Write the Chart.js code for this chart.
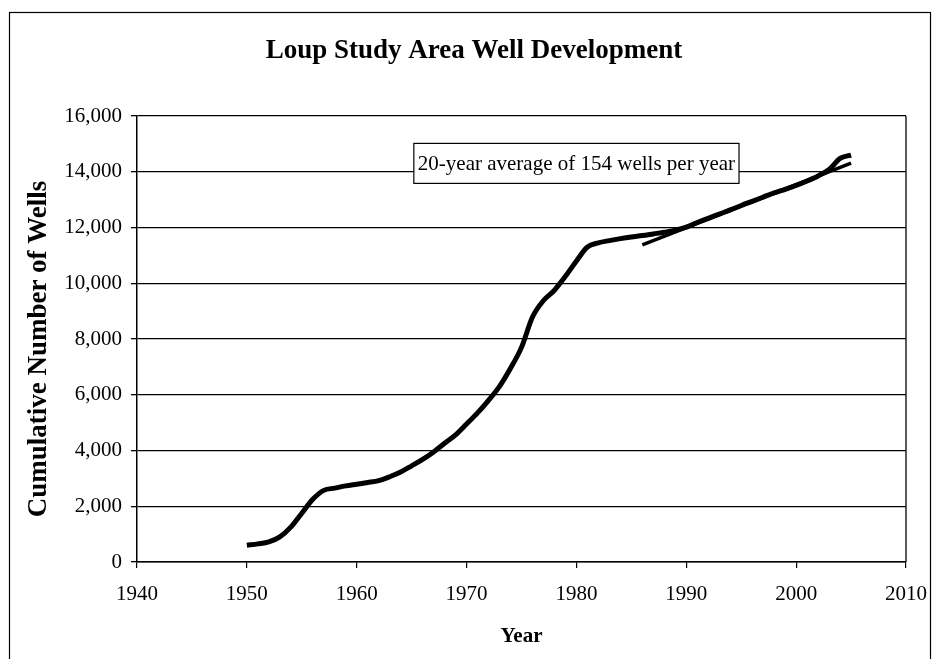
<!DOCTYPE html>
<html>
<head>
<meta charset="utf-8">
<script src="https://cdn.jsdelivr.net/npm/chart.js@4.4.1/dist/chart.umd.min.js"></script>
<style>
    html, body { margin: 0; padding: 0; background: #fff; }
    #wrap { width: 932px; height: 659px; position: relative; }
</style>
</head>
<body>
<div id="wrap"><canvas id="my-wells"></canvas></div>
<script>
/*
    Loup Study Area Well Development
*/

// cumulative well count
const years = [1950, 1951, 1952, 1953, 1954, 1955, 1956, 1957, 1958, 1959,
               1960, 1961, 1962, 1963, 1964, 1965, 1966, 1967, 1968, 1969,
               1970, 1971, 1972, 1973, 1974, 1975, 1976, 1977, 1978, 1979,
               1980, 1981, 1982, 1983, 1984, 1985, 1986, 1987, 1988, 1989,
               1990, 1991, 1992, 1993, 1994, 1995, 1996, 1997, 1998, 1999,
               2000, 2001, 2002, 2003, 2004, 2005];
const wells = [600, 650, 720, 900, 1250, 1750, 2250, 2570, 2650, 2730,
               2790, 2850, 2920, 3060, 3230, 3450, 3680, 3950, 4260, 4560,
               4950, 5350, 5800, 6300, 6950, 7700, 8790, 9380, 9750, 10250,
               10800, 11300, 11450, 11530, 11600, 11660, 11710, 11770, 11830, 11900,
               12010, 12180, 12330, 12480, 12630, 12790, 12940, 13090, 13240, 13370,
               13510, 13670, 13850, 14080, 14480, 14600];

// straight trend line, 1986 - 2005
const trend_years = [1986, 2005];
const trend_wells = [11380, 14310];

const note_text = '20-year average of 154 wells per year';
const note_year = 1980;   // box centre
const note_wells = 14300;

const y_title = 'Cumulative Number of Wells';
const serif = "'Liberation Serif', 'Times New Roman', serif";

Chart.defaults.font.family = serif;
Chart.defaults.color = '#000';

const framePlugin = {
    id: 'frame',
    beforeDraw(chart) {
        const c = chart.ctx;
        c.save();
        c.fillStyle = '#fff';
        c.fillRect(0, 0, chart.width, chart.height);
        c.strokeStyle = '#000';
        c.lineWidth = 1.2;
        c.strokeRect(9.5, 12.5, 921, 700);
        c.restore();
    },
    beforeDatasetsDraw(chart) {
        // plot area border on the right
        const a = chart.chartArea;
        const c = chart.ctx;
        c.save();
        c.strokeStyle = '#000';
        c.lineWidth = 1.3;
        c.beginPath();
        c.moveTo(a.right, a.top);
        c.lineTo(a.right, a.bottom);
        c.stroke();
        c.restore();
    },
    afterDraw(chart) {
        // y axis title, centred on the plot height
        const a = chart.chartArea;
        const c = chart.ctx;
        c.save();
        c.translate(39, (a.top + a.bottom) / 2 + 10);
        c.rotate(-Math.PI / 2);
        c.font = 'bold 27px ' + serif;
        c.fillStyle = '#000';
        c.textAlign = 'center';
        c.textBaseline = 'middle';
        c.fillText(y_title, 0, 0);
        c.restore();
    }
};

const notePlugin = {
    id: 'note',
    afterDatasetsDraw(chart) {
        const c = chart.ctx;
        const cx = chart.scales.x.getPixelForValue(note_year);
        const cy = chart.scales.y.getPixelForValue(note_wells);
        c.save();
        c.font = '21px ' + serif;
        const w = c.measureText(note_text).width + 8;
        const h = 40;
        c.fillStyle = '#fff';
        c.fillRect(cx - w / 2, cy - h / 2, w, h);
        c.strokeStyle = '#000';
        c.lineWidth = 1.2;
        c.strokeRect(cx - w / 2, cy - h / 2, w, h);
        c.fillStyle = '#000';
        c.textAlign = 'center';
        c.textBaseline = 'middle';
        c.fillText(note_text, cx, cy + 1);
        c.restore();
    }
};

const ctx = document.getElementById('my-wells').getContext('2d');
const myChart = new Chart(ctx, {
    type: 'line',
    data: {
        datasets: [{
            label: 'Cumulative wells',
            data: years.map((y, i) => ({ x: y, y: wells[i] })),
            borderColor: '#000',
            borderWidth: 5,
            pointRadius: 0,
            fill: false,
            cubicInterpolationMode: 'monotone'
        }, {
            label: 'Trend',
            data: trend_years.map((y, i) => ({ x: y, y: trend_wells[i] })),
            borderColor: '#000',
            borderWidth: 3.5,
            pointRadius: 0,
            fill: false
        }]
    },
    options: {
        animation: false,
        responsive: true,
        maintainAspectRatio: false,
        layout: { padding: { left: 42, top: 0, right: 26, bottom: 0 } },
        plugins: {
            legend: { display: false },
            tooltip: { enabled: false },
            title: {
                display: true,
                text: 'Loup Study Area Well Development',
                font: { size: 27, weight: 'bold' },
                color: '#000',
                padding: { top: 35, bottom: 48.6 }
            }
        },
        scales: {
            x: {
                type: 'linear',
                min: 1940,
                max: 2010,
                afterFit(scale) {
                    scale.height = 97;
                    // layout padding already leaves room for the end labels
                    scale.paddingLeft = 0;
                    scale.paddingRight = 0;
                },
                ticks: {
                    stepSize: 10,
                    font: { size: 21 },
                    padding: 14,
                    maxRotation: 0,
                    callback: v => String(v) // no thousands comma on years
                },
                grid: {
                    drawOnChartArea: false,
                    color: '#000',
                    tickLength: 6,
                    lineWidth: 1.2
                },
                border: { display: true, color: '#000', width: 1.5 },
                title: {
                    display: true,
                    text: 'Year',
                    font: { size: 21, weight: 'bold' },
                    padding: { top: 0, bottom: 10 }
                }
            },
            y: {
                min: 0,
                max: 16000,
                afterFit(scale) { scale.width = 95; },
                ticks: {
                    stepSize: 2000,
                    font: { size: 21 },
                    padding: 9,
                    callback: v => v.toLocaleString('en-US')
                },
                grid: {
                    color: '#000',
                    lineWidth: 1.3,
                    tickLength: 6
                },
                border: { display: true, color: '#000', width: 1.5 }
            }
        }
    },
    plugins: [framePlugin, notePlugin]
});
</script>
</body>
</html>
